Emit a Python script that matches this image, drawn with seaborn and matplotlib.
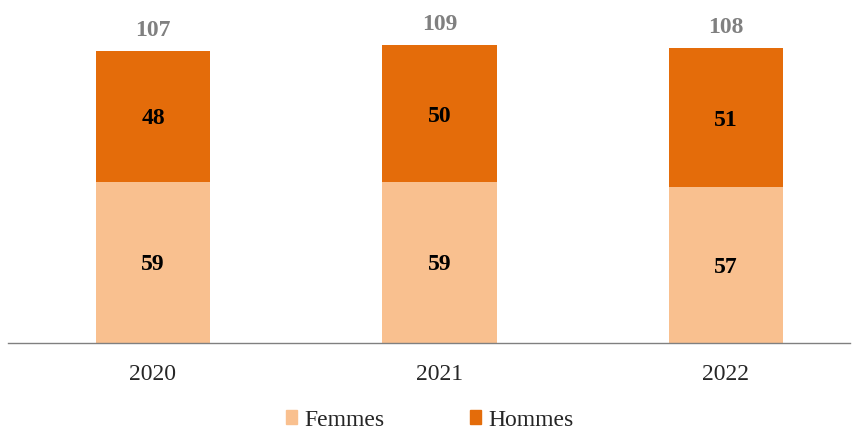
import pandas as pd
import matplotlib.pyplot as plt
import seaborn as sns
from matplotlib.patches import Patch

# ------------------------- Data -------------------------

years = ["2020", "2021", "2022"]
femmes = [59, 59, 57]
hommes = [48, 50, 51]
totals = [f + h for f, h in zip(femmes, hommes)]

c_femmes = "#F9C08F"
c_hommes = "#E46C0A"

df = pd.DataFrame({"year": years, "femmes": femmes, "hommes": hommes, "total": totals})

# ------------------------- Plot -------------------------

sns.set_style("white")
plt.rcParams["font.family"] = ["Liberation Serif", "DejaVu Serif"]

fig = plt.figure(figsize=(8.56, 4.32), dpi=100)
ax = fig.add_axes([8 / 856, 89 / 432, 842 / 856, 333 / 432])

# total bar in Hommes colour, Femmes drawn over the lower part
sns.barplot(data=df, x="year", y="total", color=c_hommes, width=0.4,
            saturation=1, ax=ax, linewidth=0)
sns.barplot(data=df, x="year", y="femmes", color=c_femmes, width=0.4,
            saturation=1, ax=ax, linewidth=0)

ax.set_xlim(-0.506, 2.433)
ax.set_ylim(0, 122)

for i in range(len(years)):
    ax.text(i, femmes[i] / 2, str(femmes[i]), ha="center", va="center_baseline",
            fontsize=17, fontweight="bold", color="black")
    ax.text(i, femmes[i] + hommes[i] / 2, str(hommes[i]), ha="center", va="center_baseline",
            fontsize=17, fontweight="bold", color="black")
    ax.text(i, totals[i] + 8.5, str(totals[i]), ha="center", va="center_baseline",
            fontsize=17, fontweight="bold", color="#808080")

ax.set_xlabel("")
ax.set_ylabel("")
ax.set_yticks([])
ax.tick_params(axis="x", length=0, labelsize=17, pad=15)

for side in ["top", "right", "left"]:
    ax.spines[side].set_visible(False)
ax.spines["bottom"].set_color("#808080")
ax.spines["bottom"].set_linewidth(1)

handles = [Patch(color=c_femmes, label="Femmes"), Patch(color=c_hommes, label="Hommes")]
fig.legend(handles=handles, loc="center", bbox_to_anchor=(0.502, 1 - 420 / 432), ncol=2,
           frameon=False, fontsize=17, handlelength=0.5, handleheight=0.5,
           handletextpad=0.3, columnspacing=3.6, borderpad=0)

fig.savefig("out.png", dpi=100)
